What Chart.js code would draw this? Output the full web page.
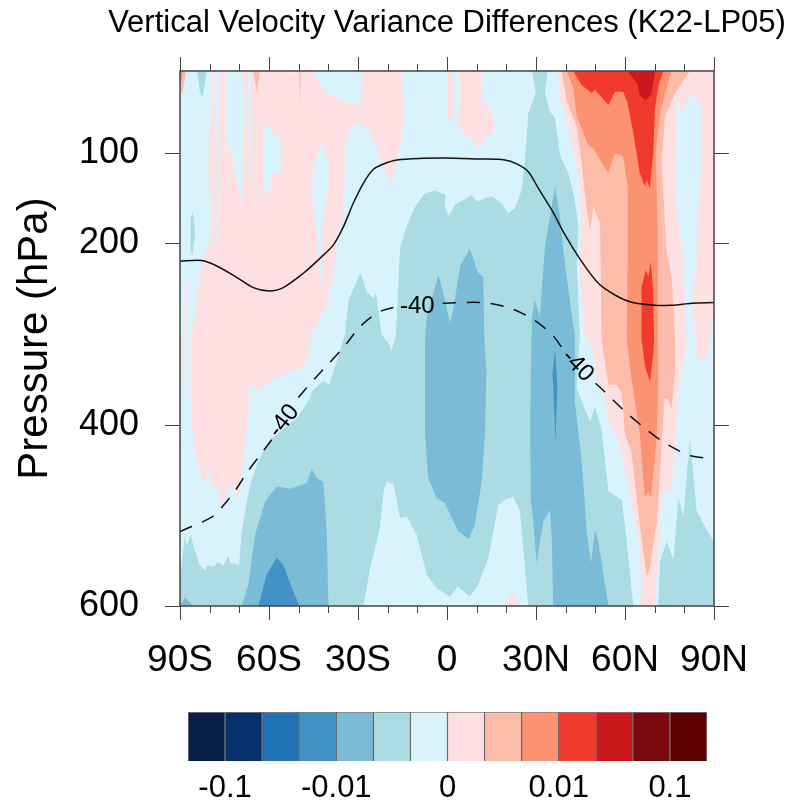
<!DOCTYPE html>
<html>
<head>
<meta charset="utf-8">
<title>Vertical Velocity Variance Differences</title>
<script src="https://cdn.jsdelivr.net/npm/chart.js@4"></script>
<style>
  html, body { margin: 0; padding: 0; background: #fff; }
  #plot { position: absolute; left: 0; top: 0; }
  #bar { position: absolute; left: 0; top: 700px; }
</style>
</head>
<body>
<canvas id="plot" width="790" height="700"></canvas>
<canvas id="bar" width="790" height="107"></canvas>
<script>
const plotTitle = 'Vertical Velocity Variance Differences (K22-LP05)';

// axis values
const xTickValues = [-90, -60, -30, 0, 30, 60, 90];
const xTickLabels = ['90S', '60S', '30S', '0', '30N', '60N', '90N'];
const xMinorTicks = [-80, -70, -50, -40, -20, -10, 10, 20, 40, 50, 70, 80];
const yTickValues = [100, 200, 400, 600];

// colour levels, same order as the label bar
const levelColors = ['#071e46', '#08306b', '#2171b5', '#4292c6', '#7abcd6', '#abdbe3', '#d9f3fd',
  '#fee0e2', '#fdbba9', '#fc9272', '#f03b2c', '#cb181d', '#7a0a10', '#600000'];
const barTickValues = [1, 4, 7, 10, 13];
const barTickLabels = ['-0.1', '-0.01', '0', '0.01', '0.1'];

// filled contour regions as [lat, hPa]
const fullDomain = [[-90,10],[90,10],[90,600],[-90,600]];
const pinkSouth = [[-79.1,10],[-45,10],[-43.4,21.8],[-40.5,34.6],[-36,42],[-29.3,47.5],[-28.2,10],[-15.3,10],[-14.7,60.3],[-15.8,93.4],[-17.8,119],[-18.6,139.4],[-20.3,122.8],[-22.6,108],[-23.7,93.4],[-25.9,75],[-29.3,65.9],[-32.7,73.2],[-34.4,89.7],[-34.4,122.8],[-34.9,170.6],[-37.2,192.6],[-38.3,233],[-40.5,268],[-45.6,301],[-46.7,323],[-49,339.6],[-51.2,339.6],[-55.2,345],[-59.7,352.5],[-63.6,363.5],[-66.4,356],[-67,393],[-68.6,437],[-69.8,473.7],[-70.3,484.8],[-71.5,464.5],[-72.6,473.7],[-73.7,462.7],[-75.4,495.8],[-77.6,464.5],[-78.8,473.7],[-80.4,448],[-81.6,468],[-83.8,444.3],[-85.5,422.3],[-86.4,374.5],[-86.1,301],[-83.3,240],[-81.5,212],[-79.7,195],[-79.5,155],[-80.4,123],[-80.4,100],[-79.5,60]];
const pinkEdgeA = [[-90,300],[-89.2,300],[-89.5,490],[-90,500]];
const pinkEdgeB = [[-88.2,240],[-87.2,245],[-87.2,300],[-87.3,420],[-88,330]];
const blueStripeA = [[-78.3,10],[-76.6,10],[-76.8,60],[-77.4,100],[-77.3,150],[-77.3,200],[-78,195],[-78,120],[-77.9,80]];
const blueStripeB = [[-74.8,10],[-69.2,10],[-68.1,53],[-68.6,89.7],[-69.2,161.4],[-71.5,122.8],[-73.1,91.6],[-74,102.6],[-74.8,71.4]];
const blueStripeC = [[-67,10],[-66.1,10],[-66.1,130],[-66.7,128]];
const bluePatch = [[-61.7,70.3],[-59.7,70.3],[-58.5,80.6],[-56.1,81.3],[-56.1,122.1],[-59.1,122.8],[-59.7,143],[-61.3,146.7],[-61.9,143]];
const blueFinger = [[-41.7,87.9],[-40.5,108],[-40.5,144.9],[-42.2,178],[-42.5,215],[-41.7,233],[-41.6,262],[-43,225],[-43.9,190],[-45.6,144.9],[-45,115],[-43.4,100]];
const pinkTopA = [[0.2,10],[2.1,10],[2.4,60.3],[0.6,65.9],[-0.1,56.7]];
const pinkTopB = [[4.4,10],[11.4,10],[12.2,53],[13.9,45.6],[15.9,67.7],[15.6,78.7],[12.8,84.2],[10.5,97.8],[8.9,86],[6,80.6],[3.8,71.4]];
const salmonCorner = [[-90,10],[-88,10],[-89.1,34.6],[-89.7,34.6]];
const orangeCorner = [[-90,10],[-89,10],[-89.6,24]];
const salmonSpot = [[-65.3,10],[-63.1,10],[-64.1,32.8]];
const salmonSliver = [[-49.8,10],[-49.3,10],[-49.55,49]];
const tealSpot = [[-84.2,10],[-81,10],[-82.4,38.3],[-83.3,32.8]];
const tealStrip = [[-86.4,172],[-85.6,165],[-84.9,190],[-85.9,213],[-86.5,205]];
const tealMain = [[28.7,10],[33.9,10],[33,34.6],[34.7,54.8],[36.4,62.2],[38.1,102.6],[40.9,122.8],[43.1,152.2],[44.3,181.6],[43.7,222],[44.8,301],[43.7,359.8],[48.2,396.6],[49.9,380],[52.1,405.7],[54.4,473.7],[58.9,482.9],[60.6,528.9],[62.8,600],[-90,600],[-90,569.3],[-88.3,521.5],[-87.8,534.4],[-86.4,521.5],[-85.3,536.2],[-83.3,554.6],[-81.6,561.2],[-80.8,555.3],[-78.8,557.1],[-77.1,551.6],[-75.4,555.3],[-73.7,545.4],[-73.1,552.7],[-70.1,554.6],[-69.2,517.8],[-66.4,466.4],[-63.9,442.5],[-60.2,418.6],[-52.9,398.4],[-50.1,391],[-46.2,370.8],[-45.6,363.5],[-41.7,351.7],[-39.7,356.1],[-37.2,330.4],[-34.4,301],[-33.2,262.5],[-29.1,232.3],[-27.1,253.3],[-24.8,260.6],[-23.9,255.1],[-22,301],[-19.8,310],[-18.7,319],[-17.2,301],[-15.8,203.7],[-13.6,181.6],[-10.8,159.6],[-7.4,144.9],[-4,141.9],[-0.6,146.7],[-0.7,159.6],[0.6,169.9],[2.7,157.7],[8.3,146.7],[10,154],[15,147.8],[18.4,155.9],[20.7,166.9],[22.9,161.4],[25.2,141.2],[26.3,108.1],[27.4,56.7],[29.9,34.6]];
const tealNorth = [[71.2,600],[71.8,550.9],[74.1,528.9],[76.3,549],[78,481],[79.7,501.3],[81.9,414.9],[84.2,495.8],[89.8,528.9],[90,600]];
const lightBottom = [[-28.2,600],[-25.9,558],[-22.6,514],[-21.4,473.7],[-20.3,462.7],[-18,466.4],[-15.8,503],[-13.6,501],[-10.2,521.5],[-6.8,565.6],[-3.5,580.3],[1,589.5],[3.6,578.5],[7.7,589.5],[10.5,576.6],[13.9,547.2],[17.3,488.4],[19.5,483],[22.3,479.2],[24.6,495.8],[27.4,600]];
const pinkBottom = [[19.3,600],[21,590],[22.3,582],[23.3,590],[24,600]];
const midSouth = [[-69.2,600],[-67,576.6],[-64.7,521.5],[-61.3,484.8],[-57.4,468.2],[-52.9,470.8],[-47.3,464.5],[-45.6,448.7],[-43.9,459],[-41.7,462.7],[-40.5,521.5],[-40,600]];
const midCorner = [[-88.3,591],[-85.5,600],[-90,600]];
const midEquator = [[-7.4,306],[-6.8,280.8],[-4,247.8],[-2.9,235],[-1.2,255],[-0.2,270],[1,288],[2.1,273.5],[4.4,225.7],[7.7,205.5],[10.5,233],[12.2,236.7],[12.6,306.6],[13.3,340],[12.8,411],[11.7,462.7],[9.4,510.5],[7.4,526],[3.8,517.8],[-0.7,486.6],[-3.5,481],[-6.3,459],[-7.4,411]];
const midNorth = [[36.4,137.5],[35.3,159.6],[33,203.7],[31.3,280.8],[29.6,262.5],[28.7,280.8],[28.5,301],[28,403.9],[28.3,484.8],[29.1,506.8],[30.2,552.7],[32.5,506.8],[34.7,494],[35.3,521.5],[35.8,600],[54.4,600],[51,528.9],[49.9,516],[48.5,552.7],[47.1,517.8],[45.4,440.7],[43.1,374.5],[43.1,301],[42.6,291.9],[40.3,236.7],[39.2,207.3],[38.1,170.6]];
const blueSouth = [[-63.6,600],[-60.8,565.6],[-57.4,546.5],[-55.2,554.6],[-51.8,584],[-49.7,600]];
const blueSliver = [[36.4,315.7],[37.2,356],[36.6,418.6],[35.8,356],[35.5,345]];
const pinkNorth = [[37.3,10],[38.1,38.3],[40.9,71.4],[42.6,100.8],[44.3,122.8],[45.4,181.6],[44.8,225.7],[46.3,301],[49.3,315.7],[50.4,352.5],[52.7,363.5],[54.4,396.6],[57.7,414.9],[59.4,440.7],[64.5,521.5],[65.6,580],[65,600],[70.1,600],[70.7,558],[72.4,473.7],[75.7,471.9],[76.9,422.3],[78,363.5],[80.2,323],[80.8,306.6],[79.7,218.4],[78.5,192.6],[77.1,152.2],[77.4,47.5],[78,42],[78.9,56.7],[82.5,32.8],[85.8,49.3],[85.8,100.8],[85,144.9],[84.2,203.7],[83,255],[83.6,306.6],[84.2,323],[85.8,332],[88.1,321],[88.7,301],[90,273.5],[90,10]];
const salmonNorth = [[38.6,10],[40.3,42],[43.7,71.4],[45.4,111.8],[46.5,144.9],[48.2,187.1],[49.3,159.6],[51.6,178],[52.1,306.6],[54.4,356],[57.2,356],[58.9,365.3],[60,411],[62.2,429.6],[65,510.5],[67.3,567.4],[68.4,558.3],[70.7,506.8],[71.2,484.8],[73.3,370.8],[74.6,372.7],[75.7,383.7],[76.9,337.8],[76.9,306.6],[75.7,236.7],[74,207.3],[73.5,181.6],[72.4,108.1],[73.5,60.3],[76.9,34.6],[80.2,18],[81.9,10]];
const orangeNorth = [[40.3,10],[42.6,29.1],[43.7,60.3],[47.6,91.6],[49.3,95.3],[54.4,122.8],[56.6,100.8],[59.4,104.4],[60.9,137.5],[60.9,218.4],[60.6,306.6],[61.7,337.8],[65,411],[66.7,481],[67.9,473.7],[68.8,481],[70.7,411],[71.2,356],[71,301],[71,181.6],[70.3,100.8],[72,53],[73.5,34.6],[75.7,10]];
const redTop = [[42.6,10],[45.4,25.4],[48.8,34.6],[49.9,30.9],[54.4,47.5],[56.6,32.8],[59.4,32.8],[60.9,45.6],[62.8,78.7],[65,122.8],[66.7,137.5],[67.3,130.2],[68.4,139.4],[69.5,100.8],[70.1,53],[71.2,27.3],[72.9,10]];
const redCore = [[65.6,306.6],[65.6,247.8],[67,229.4],[67.9,236.7],[68.7,220.2],[69.5,251.4],[69.8,306.6],[69.5,323],[68.4,352.5],[67.3,341.4],[66.7,334]];
const darkRedTop = [[60.9,10],[64,23.6],[65,36.5],[66.7,42],[67.9,40.2],[69,34.6],[70.1,10]];

// paint order, bottom first, with the index of the colour level
const regionList = [
  [fullDomain, 6], [tealMain, 5], [tealNorth, 5], [lightBottom, 6], [pinkBottom, 7],
  [pinkSouth, 7], [pinkEdgeA, 7], [pinkEdgeB, 7], [blueStripeA, 6], [blueStripeB, 6], [blueStripeC, 6],
  [bluePatch, 6], [blueFinger, 6], [pinkTopA, 7], [pinkTopB, 7], [salmonCorner, 8], [orangeCorner, 9],
  [salmonSpot, 8], [salmonSliver, 8], [tealSpot, 5], [tealStrip, 5],
  [midSouth, 4], [midCorner, 4], [midEquator, 4], [midNorth, 4], [blueSouth, 3], [blueSliver, 3],
  [pinkNorth, 7], [salmonNorth, 8], [orangeNorth, 9], [redTop, 10], [redCore, 10], [darkRedTop, 11]
];

// contour lines
const solidContour = [[-90,219.8],[-82.7,219],[-77.6,225],[-70.9,237.5],[-65.3,248.9],[-59.9,252.6],[-55.2,248.9],[-48.4,233],[-42.8,216.5],[-38.3,201.8],[-34.9,181.6],[-31.6,155.9],[-28.2,133.8],[-24.8,118.4],[-21.4,112.5],[-16.9,108.1],[-7.9,106.3],[-0.7,105.9],[10.5,107],[19.5,108.1],[23.5,112.5],[27.4,121],[30.8,139.4],[35.3,163.2],[39.8,190.8],[45.4,220.2],[51,244.1],[56.6,257],[62.2,265],[69,268],[75.7,268.4],[82.5,266.1],[90,265.4]];
const dashedWest = [[-90,517.8],[-86.1,512.3],[-82.1,506.8],[-78.2,499.5],[-75.4,489.2],[-72,475.6],[-67.3,452.4],[-61.9,428.9],[-57.4,409.4]];
const dashedMiddle = [[-50.1,370.1],[-44.5,348.8],[-41.1,337],[-34.9,315],[-29.3,291.9],[-22.6,275.3],[-15.8,269]];
const dashedCentre = [[-1.4,266.1],[11.7,265.4],[20.7,270.9],[28.8,283.4],[35.8,302.2],[40.3,323]];
const dashedEast = [[50.1,354.3],[53.3,364.2],[60,385.5],[66.7,403.9],[73.5,420.4],[81.9,434],[90,437.7]];
const contourLabelText = ['-40', '-40', '-40'];
const contourLabelLat = [-55, -10, 44];
const contourLabelHpa = [396, 270, 335];
const contourLabelAngle = [-52, 0, 46];

const toPoints = pairs => pairs.map(p => ({x: p[0], y: p[1]}));

const fillSets = regionList.map((r, i) => ({
  data: toPoints(r[0]),
  showLine: true,
  fill: 'shape',
  backgroundColor: levelColors[r[1]],
  borderWidth: 0,
  pointRadius: 0,
  order: 100 - i
}));

function contourSet(pairs, dash) {
  return {
    data: toPoints(pairs),
    showLine: true,
    fill: false,
    borderColor: '#111',
    borderWidth: 1.5,
    borderDash: dash,
    tension: 0.3,
    pointRadius: 0,
    order: 0
  };
}

const lineSets = [
  contourSet(solidContour, []),
  contourSet(dashedWest, [13, 11]),
  contourSet(dashedMiddle, [13, 11]),
  contourSet(dashedCentre, [13, 11]),
  contourSet(dashedEast, [13, 11])
];

// title, frame, outward ticks and the contour labels
const framePlugin = {
  id: 'framePlugin',
  afterDatasetsDraw(chart) {
    const ctx = chart.ctx;
    const a = chart.chartArea;
    const xs = chart.scales.x;
    const ys = chart.scales.y;
    ctx.save();
    ctx.fillStyle = '#000';
    ctx.textAlign = 'center';
    ctx.textBaseline = 'middle';
    ctx.font = '31px "Liberation Sans"';
    ctx.fillText(plotTitle, (a.left + a.right) / 2, 23);
    ctx.font = '24px "Liberation Sans"';
    contourLabelText.forEach((t, i) => {
      ctx.save();
      ctx.translate(xs.getPixelForValue(contourLabelLat[i]), ys.getPixelForValue(contourLabelHpa[i]));
      ctx.rotate(contourLabelAngle[i] * Math.PI / 180);
      ctx.fillText(t, 0, 0);
      ctx.restore();
    });
    ctx.strokeStyle = '#444';
    ctx.lineWidth = 1.5;
    ctx.strokeRect(a.left, a.top, a.right - a.left, a.bottom - a.top);
    ctx.lineWidth = 1;
    ctx.beginPath();
    xTickValues.forEach(v => {
      const px = Math.round(xs.getPixelForValue(v)) + 0.5;
      ctx.moveTo(px, a.top); ctx.lineTo(px, a.top - 14);
      ctx.moveTo(px, a.bottom); ctx.lineTo(px, a.bottom + 14);
    });
    xMinorTicks.forEach(v => {
      const px = Math.round(xs.getPixelForValue(v)) + 0.5;
      ctx.moveTo(px, a.top); ctx.lineTo(px, a.top - 7);
      ctx.moveTo(px, a.bottom); ctx.lineTo(px, a.bottom + 7);
    });
    yTickValues.forEach(v => {
      const py = Math.round(ys.getPixelForValue(v)) + 0.5;
      ctx.moveTo(a.left, py); ctx.lineTo(a.left - 15, py);
      ctx.moveTo(a.right, py); ctx.lineTo(a.right + 15, py);
    });
    ctx.stroke();
    ctx.restore();
  }
};

new Chart(document.getElementById('plot'), {
  type: 'scatter',
  data: {datasets: fillSets.concat(lineSets)},
  plugins: [framePlugin],
  options: {
    responsive: false,
    animation: false,
    layout: {padding: {top: 71, right: 76}},
    plugins: {
      legend: {display: false},
      tooltip: {enabled: false},
      title: {display: false}
    },
    scales: {
      x: {
        type: 'linear',
        min: -90,
        max: 90,
        afterFit(scale) { scale.height = 94; },
        afterBuildTicks(scale) { scale.ticks = xTickValues.map(v => ({value: v})); },
        grid: {display: false, drawTicks: false},
        border: {display: false},
        ticks: {
          color: '#000',
          padding: 33,
          maxRotation: 0,
          autoSkip: false,
          font: {family: '"Liberation Sans"', size: 37},
          callback: (v) => xTickLabels[xTickValues.indexOf(v)]
        }
      },
      y: {
        type: 'linear',
        reverse: true,
        min: 10,
        max: 600,
        afterFit(scale) { scale.width = 180; },
        afterBuildTicks(scale) { scale.ticks = yTickValues.map(v => ({value: v})); },
        grid: {display: false, drawTicks: false},
        border: {display: false},
        title: {
          display: true,
          text: 'Pressure (hPa)',
          color: '#000',
          font: {family: '"Liberation Sans"', size: 42, weight: 'normal'},
          padding: {top: 10, bottom: 0}
        },
        ticks: {
          color: '#000',
          padding: 41,
          autoSkip: false,
          font: {family: '"Liberation Sans"', size: 36},
          callback: (v) => String(v)
        }
      }
    }
  }
});

// label bar
const barPoints = levelColors.map((c, i) => ({x: i + 0.5, y: 1}));

new Chart(document.getElementById('bar'), {
  type: 'bar',
  data: {
    datasets: [{
      data: barPoints,
      backgroundColor: levelColors,
      borderColor: 'rgba(0,0,0,0.5)',
      borderWidth: 1,
      barPercentage: 1,
      categoryPercentage: 1
    }]
  },
  options: {
    responsive: false,
    animation: false,
    layout: {padding: {left: 188, right: 83, top: 12, bottom: 0}},
    plugins: {legend: {display: false}, tooltip: {enabled: false}},
    scales: {
      x: {
        type: 'linear',
        offset: false,
        min: 0,
        max: 14,
        afterFit(scale) { scale.height = 46; },
        afterBuildTicks(scale) { scale.ticks = barTickValues.map(v => ({value: v})); },
        grid: {display: false, drawTicks: false},
        border: {display: false},
        ticks: {
          color: '#000',
          padding: 9,
          maxRotation: 0,
          autoSkip: false,
          font: {family: '"Liberation Sans"', size: 31},
          callback: (v) => barTickLabels[barTickValues.indexOf(v)]
        }
      },
      y: {display: false, min: 0, max: 1}
    }
  }
});
</script>
</body>
</html>
